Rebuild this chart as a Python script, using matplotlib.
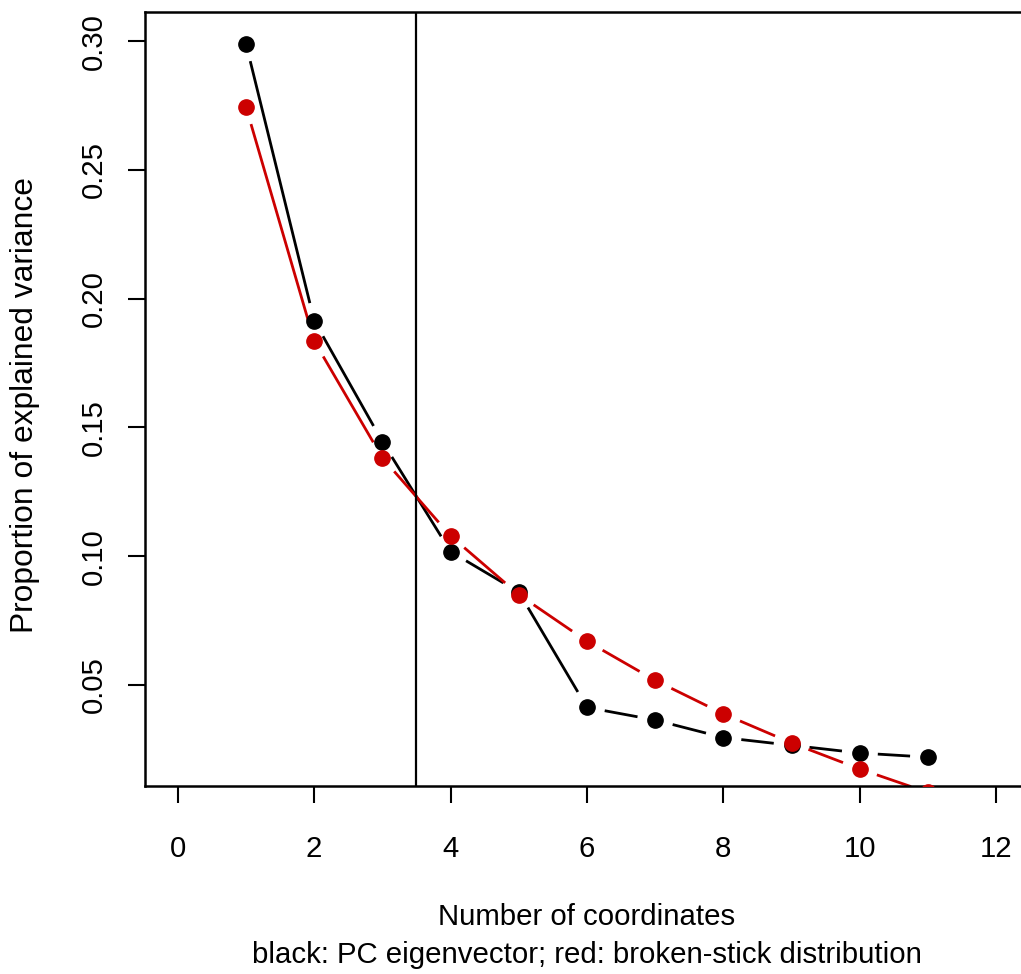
import matplotlib
matplotlib.use("Agg")
import matplotlib.pyplot as plt
import numpy as np

plt.rcParams['font.family'] = ['Liberation Sans', 'DejaVu Sans']

# values
coords = [1, 2, 3, 4, 5, 6, 7, 8, 9, 10, 11]
pc_eigen = [0.299, 0.1915, 0.1445, 0.1018, 0.0861, 0.0413, 0.0364, 0.0296, 0.0266, 0.0236, 0.0220]
broken_stick = [0.2745, 0.1836, 0.1382, 0.1079, 0.0851, 0.0670, 0.0518, 0.0388, 0.0275, 0.0174, 0.0083]
cutoff = 3.5
xticks = [0, 2, 4, 6, 8, 10, 12]
yticks = [0.05, 0.10, 0.15, 0.20, 0.25, 0.30]

W, H = 1021, 974
fig = plt.figure(figsize=(W / 100, H / 100), dpi=100)
ax = fig.add_axes([145 / W, (H - 786) / H, (1029 - 145) / W, (786 - 12) / H])
ax.set_xlim(-0.48, 12.48)
ax.set_ylim(0.0108, 0.3113)

fs = 21.2


def gapped(ax, x, y, color, gap=18):
    # R type="b": segments stop short of each point
    pts = ax.transData.transform(np.column_stack([x, y]))
    inv = ax.transData.inverted()
    for p0, p1 in zip(pts[:-1], pts[1:]):
        d = p1 - p0
        L = np.hypot(*d)
        if L <= 2 * gap:
            continue
        u = d / L
        a = inv.transform(p0 + u * gap)
        b = inv.transform(p1 - u * gap)
        ax.plot([a[0], b[0]], [a[1], b[1]], color=color, lw=2, solid_capstyle='butt')
    ax.plot(x, y, 'o', color=color, ms=11, mec=color, zorder=3)


gapped(ax, coords, pc_eigen, 'black')
gapped(ax, coords, broken_stick, '#cc0000')
ax.axvline(cutoff, color='black', lw=1.6)

for s in ax.spines.values():
    s.set_linewidth(1.8)

ax.set_xticks(xticks)
ax.set_xticklabels([str(t) for t in xticks])
ax.set_yticks(yticks)
ax.set_yticklabels(['%.2f' % t for t in yticks], rotation=90, va='center')
ax.tick_params(axis='both', length=12.5, width=1.5, labelsize=fs)
ax.tick_params(axis='x', pad=23)
ax.tick_params(axis='y', pad=14)

fig.text(25 / W, 1 - 405 / H, 'Proportion of explained variance', rotation=90,
         ha='center', va='center', fontsize=22.9)
fig.text(587 / W, 1 - 917 / H, 'Number of coordinates', ha='center', va='center', fontsize=fs)
fig.text(587 / W, 1 - 955 / H, 'black: PC eigenvector; red: broken-stick distribution',
         ha='center', va='center', fontsize=fs)

fig.savefig('out.png', dpi=100)
